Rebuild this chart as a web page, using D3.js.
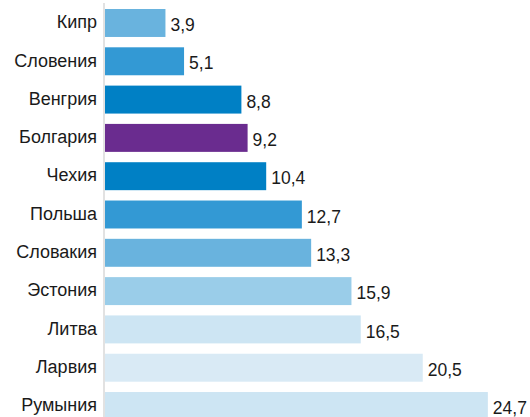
<!DOCTYPE html>
<html>
<head>
<meta charset="utf-8">
<script src="https://cdn.jsdelivr.net/npm/d3@7"></script>
<style>
  body { margin: 0; background: #fff; }
  text { font-family: "Liberation Sans", Arial, sans-serif; fill: #1a1a1a; }
</style>
</head>
<body>
<div id="app"></div>
<script>
// countries top to bottom
const countries = ["Кипр", "Словения", "Венгрия", "Болгария", "Чехия", "Польша",
  "Словакия", "Эстония", "Литва", "Ларвия", "Румыния"];
const values = [3.9, 5.1, 8.8, 9.2, 10.4, 12.7, 13.3, 15.9, 16.5, 20.5, 24.7];
const barColors = ["#69b3de", "#3399d4", "#0080c5", "#6a2c8f", "#0080c5", "#3399d4",
  "#69b3de", "#9acde9", "#cde5f3", "#d9eaf5", "#cde5f3"];

const width = 530, height = 417;
const left = 105;

const data = countries.map((c, i) => ({ name: c, value: values[i], color: barColors[i] }));

let xScale = d3.scaleLinear()
  .domain([0, 24.7])
  .range([left, left + 24.7 * 15.5]);

let yScale = d3.scaleBand()
  .domain(countries)
  .range([9, 420])
  .paddingInner(0.27)
  .paddingOuter(0);

const svg = d3.select("#app")
  .append("svg")
  .attr("width", width)
  .attr("height", height);

// axis line
svg.append("line")
  .attr("x1", left - 1).attr("x2", left - 1)
  .attr("y1", 3).attr("y2", height)
  .attr("stroke", "#d9d9d9")
  .attr("stroke-width", 1.5);

svg.selectAll("rect.bar")
  .data(data)
  .enter()
  .append("rect")
  .attr("class", "bar")
  .attr("x", xScale(0))
  .attr("y", d => yScale(d.name))
  .attr("width", d => xScale(d.value) - xScale(0))
  .attr("height", yScale.bandwidth())
  .attr("fill", d => d.color);

// category labels
svg.selectAll("text.cat")
  .data(data)
  .enter()
  .append("text")
  .attr("class", "cat")
  .attr("x", left - 8)
  .attr("y", d => yScale(d.name) + yScale.bandwidth() / 2 - 1)
  .attr("dy", "0.35em")
  .attr("text-anchor", "end")
  .style("font-size", "18px")
  .text(d => d.name);

// value labels
svg.selectAll("text.val")
  .data(data)
  .enter()
  .append("text")
  .attr("class", "val")
  .attr("x", d => xScale(d.value) + 5)
  .attr("y", d => yScale(d.name) + yScale.bandwidth() / 2 + 2)
  .attr("dy", "0.35em")
  .style("font-size", "17.5px")
  .text(d => String(d.value).replace(".", ","));
</script>
</body>
</html>
